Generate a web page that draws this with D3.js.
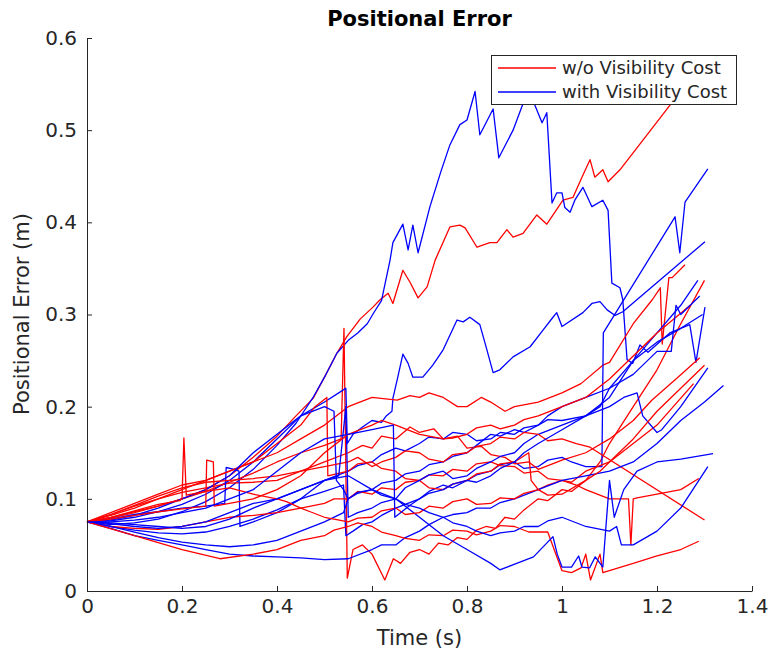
<!DOCTYPE html>
<html>
<head>
<meta charset="utf-8">
<script src="https://cdn.jsdelivr.net/npm/d3@7"></script>
<style>
  html, body { margin: 0; padding: 0; background: #fff; }
  svg { display: block; font-family: "DejaVu Sans", sans-serif; }
</style>
</head>
<body>
<svg id="chart" width="772" height="658"></svg>
<script>
// Axis ticks
const xTicks = [0, 0.2, 0.4, 0.6, 0.8, 1.0, 1.2, 1.4];
const yTicks = [0, 0.1, 0.2, 0.3, 0.4, 0.5, 0.6];
const seriesNames = ["w/o Visibility Cost", "with Visibility Cost"];

// Runs without the visibility cost: [time (s), positional error (m)]
const redRuns = [
  [[0,0.075],[0.05,0.079],[0.1,0.085],[0.15,0.092],[0.2,0.1],[0.25,0.11],[0.3,0.125],[0.35,0.145],[0.4,0.168],[0.44,0.19],[0.476,0.209],[0.5,0.232],[0.526,0.258],[0.547,0.276],[0.575,0.295],[0.602,0.308],[0.617,0.316],[0.634,0.323],[0.644,0.312],[0.665,0.348],[0.68,0.335],[0.697,0.318],[0.716,0.33],[0.733,0.359],[0.764,0.395],[0.785,0.397],[0.796,0.394],[0.821,0.373],[0.848,0.378],[0.863,0.378],[0.884,0.392],[0.897,0.384],[0.918,0.388],[0.947,0.408],[0.968,0.398],[1.002,0.424],[1.023,0.427],[1.042,0.449],[1.059,0.468],[1.069,0.449],[1.086,0.457],[1.097,0.444],[1.122,0.457],[1.227,0.527],[1.27,0.556]],
  [[0,0.075],[0.05,0.08],[0.1,0.086],[0.15,0.092],[0.2,0.1],[0.25,0.108],[0.3,0.118],[0.35,0.128],[0.4,0.14],[0.45,0.15],[0.5,0.158],[0.535,0.165],[0.541,0.285],[0.548,0.014],[0.56,0.045],[0.58,0.05],[0.6,0.04],[0.627,0.012],[0.645,0.035],[0.66,0.03],[0.68,0.042],[0.7,0.045],[0.72,0.04],[0.74,0.052],[0.76,0.05],[0.78,0.058],[0.8,0.056],[0.82,0.066],[0.84,0.07],[0.86,0.068],[0.88,0.08],[0.9,0.078],[0.92,0.088],[0.95,0.1],[0.97,0.098],[1.0,0.11],[1.02,0.108],[1.05,0.12],[1.08,0.14],[1.1,0.16],[1.15,0.2],[1.2,0.24],[1.25,0.29],[1.3,0.337]],
  [[0,0.075],[0.05,0.082],[0.1,0.09],[0.15,0.1],[0.2,0.11],[0.25,0.12],[0.3,0.13],[0.35,0.14],[0.4,0.15],[0.45,0.165],[0.5,0.18],[0.55,0.2],[0.6,0.21],[0.653,0.207],[0.68,0.212],[0.7,0.21],[0.72,0.215],[0.75,0.21],[0.78,0.2],[0.8,0.2],[0.83,0.21],[0.85,0.205],[0.88,0.195],[0.9,0.2],[0.95,0.205],[1.0,0.215],[1.04,0.225],[1.086,0.245],[1.1,0.248],[1.15,0.29],[1.19,0.316],[1.207,0.329],[1.211,0.268],[1.225,0.34],[1.232,0.34],[1.259,0.354]],
  [[0,0.075],[0.05,0.083],[0.1,0.092],[0.15,0.1],[0.2,0.107],[0.25,0.112],[0.3,0.117],[0.35,0.118],[0.4,0.12],[0.45,0.13],[0.5,0.14],[0.55,0.15],[0.58,0.158],[0.6,0.155],[0.62,0.168],[0.65,0.165],[0.68,0.178],[0.7,0.172],[0.73,0.176],[0.75,0.165],[0.78,0.168],[0.8,0.155],[0.83,0.157],[0.85,0.148],[0.88,0.145],[0.9,0.138],[0.93,0.14],[0.95,0.132],[0.98,0.138],[1.0,0.142],[1.05,0.15],[1.1,0.165],[1.15,0.185],[1.189,0.207],[1.24,0.23],[1.29,0.253]],
  [[0,0.075],[0.05,0.085],[0.1,0.095],[0.15,0.105],[0.2,0.115],[0.25,0.12],[0.3,0.13],[0.35,0.14],[0.4,0.16],[0.45,0.18],[0.48,0.2],[0.505,0.21],[0.507,0.125],[0.55,0.13],[0.57,0.138],[0.6,0.14],[0.62,0.133],[0.65,0.13],[0.67,0.122],[0.7,0.12],[0.72,0.112],[0.75,0.11],[0.77,0.116],[0.8,0.12],[0.82,0.127],[0.85,0.13],[0.87,0.138],[0.9,0.14],[0.93,0.15],[0.935,0.12],[0.95,0.11],[0.97,0.115],[1.0,0.12],[1.02,0.118],[1.05,0.13],[1.1,0.14],[1.15,0.16],[1.2,0.18],[1.277,0.225]],
  [[0,0.075],[0.05,0.07],[0.1,0.068],[0.15,0.067],[0.2,0.07],[0.25,0.075],[0.3,0.08],[0.35,0.082],[0.4,0.085],[0.45,0.09],[0.5,0.095],[0.52,0.1],[0.55,0.1],[0.57,0.108],[0.6,0.105],[0.62,0.112],[0.65,0.11],[0.67,0.118],[0.7,0.12],[0.72,0.126],[0.75,0.125],[0.77,0.132],[0.8,0.13],[0.82,0.138],[0.85,0.14],[0.87,0.136],[0.9,0.135],[0.92,0.128],[0.95,0.13],[0.97,0.122],[1.0,0.12],[1.03,0.115],[1.05,0.11],[1.1,0.1],[1.14,0.1],[1.145,0.05],[1.15,0.1],[1.158,0.101],[1.2,0.105],[1.25,0.11],[1.288,0.122]],
  [[0,0.075],[0.05,0.083],[0.1,0.093],[0.15,0.103],[0.2,0.112],[0.25,0.118],[0.3,0.12],[0.35,0.122],[0.4,0.125],[0.45,0.13],[0.5,0.135],[0.55,0.14],[0.57,0.145],[0.6,0.135],[0.62,0.14],[0.65,0.145],[0.67,0.152],[0.7,0.15],[0.72,0.143],[0.75,0.14],[0.77,0.148],[0.8,0.15],[0.82,0.157],[0.85,0.16],[0.87,0.167],[0.9,0.165],[0.92,0.172],[0.95,0.17],[0.97,0.163],[1.0,0.165],[1.03,0.16],[1.059,0.156],[1.3,0.077]],
  [[0,0.075],[0.1,0.06],[0.2,0.045],[0.28,0.035],[0.35,0.04],[0.4,0.045],[0.45,0.055],[0.5,0.06],[0.52,0.066],[0.55,0.07],[0.57,0.074],[0.6,0.07],[0.62,0.064],[0.65,0.06],[0.67,0.057],[0.7,0.055],[0.72,0.061],[0.75,0.06],[0.77,0.066],[0.8,0.065],[0.82,0.061],[0.85,0.065],[0.87,0.071],[0.9,0.07],[0.93,0.064],[0.97,0.064],[0.98,0.05],[1.0,0.022],[1.02,0.02],[1.04,0.025],[1.05,0.04],[1.06,0.012],[1.08,0.04],[1.086,0.02],[1.15,0.03],[1.2,0.038],[1.25,0.045],[1.288,0.054]],
  [[0,0.075],[0.05,0.08],[0.1,0.087],[0.15,0.094],[0.195,0.098],[0.2,0.1],[0.204,0.166],[0.209,0.104],[0.25,0.108],[0.3,0.112],[0.35,0.105],[0.4,0.1],[0.42,0.097],[0.45,0.09],[0.47,0.086],[0.5,0.08],[0.52,0.078],[0.55,0.075],[0.57,0.079],[0.6,0.08],[0.62,0.087],[0.65,0.09],[0.67,0.083],[0.7,0.085],[0.72,0.092],[0.75,0.09],[0.77,0.097],[0.8,0.1],[0.82,0.094],[0.85,0.095],[0.87,0.101],[0.9,0.1],[0.92,0.106],[0.95,0.11],[0.97,0.104],[1.0,0.105],[1.05,0.12],[1.08,0.13],[1.1,0.14],[1.15,0.165],[1.2,0.195],[1.3,0.245]],
  [[0,0.075],[0.05,0.078],[0.1,0.082],[0.15,0.086],[0.2,0.089],[0.25,0.092],[0.252,0.142],[0.266,0.14],[0.268,0.092],[0.3,0.095],[0.35,0.1],[0.4,0.11],[0.45,0.125],[0.5,0.15],[0.52,0.158],[0.55,0.17],[0.57,0.174],[0.6,0.18],[0.62,0.185],[0.65,0.18],[0.67,0.176],[0.7,0.17],[0.72,0.168],[0.75,0.165],[0.77,0.166],[0.8,0.17],[0.82,0.177],[0.85,0.18],[0.87,0.176],[0.9,0.18],[0.92,0.186],[0.95,0.19],[1.0,0.2],[1.05,0.21],[1.1,0.23],[1.15,0.255],[1.2,0.28],[1.27,0.31]]
];

// Runs with the visibility cost
const blueRuns = [
  [[0,0.075],[0.05,0.072],[0.1,0.074],[0.15,0.078],[0.2,0.086],[0.25,0.097],[0.3,0.112],[0.35,0.132],[0.4,0.158],[0.44,0.182],[0.476,0.21],[0.5,0.232],[0.526,0.258],[0.55,0.272],[0.57,0.28],[0.59,0.29],[0.605,0.303],[0.62,0.315],[0.638,0.359],[0.644,0.378],[0.665,0.398],[0.676,0.37],[0.686,0.397],[0.697,0.367],[0.722,0.417],[0.745,0.455],[0.764,0.484],[0.785,0.506],[0.8,0.511],[0.817,0.542],[0.827,0.495],[0.855,0.523],[0.867,0.47],[0.897,0.5],[0.918,0.529],[0.933,0.538],[0.943,0.527],[0.958,0.508],[0.968,0.519],[0.979,0.421],[0.989,0.432],[1.0,0.432],[1.006,0.416],[1.017,0.411],[1.027,0.424],[1.044,0.438],[1.063,0.417],[1.086,0.424],[1.097,0.413],[1.105,0.334],[1.122,0.329],[1.128,0.316],[1.137,0.251],[1.149,0.247],[1.164,0.267],[1.181,0.259],[1.227,0.28],[1.269,0.289],[1.282,0.248],[1.301,0.308]],
  [[0,0.075],[0.05,0.076],[0.1,0.08],[0.15,0.086],[0.2,0.094],[0.25,0.105],[0.3,0.12],[0.35,0.14],[0.4,0.165],[0.45,0.19],[0.5,0.205],[0.53,0.215],[0.545,0.22],[0.548,0.16],[0.56,0.17],[0.58,0.178],[0.6,0.185],[0.62,0.183],[0.63,0.19],[0.642,0.195],[0.644,0.209],[0.653,0.229],[0.665,0.257],[0.676,0.247],[0.686,0.232],[0.707,0.232],[0.728,0.245],[0.749,0.261],[0.779,0.294],[0.792,0.292],[0.806,0.297],[0.827,0.289],[0.838,0.269],[0.855,0.237],[0.869,0.24],[0.897,0.254],[0.933,0.265],[0.96,0.283],[0.981,0.297],[0.989,0.302],[1.0,0.287],[1.044,0.302],[1.063,0.312],[1.08,0.314],[1.095,0.305],[1.112,0.299],[1.128,0.303],[1.301,0.379]],
  [[0,0.075],[0.05,0.07],[0.1,0.066],[0.15,0.063],[0.2,0.062],[0.25,0.064],[0.3,0.07],[0.35,0.078],[0.4,0.088],[0.45,0.1],[0.5,0.108],[0.54,0.115],[0.545,0.06],[0.56,0.065],[0.58,0.072],[0.6,0.075],[0.62,0.082],[0.65,0.09],[0.67,0.094],[0.7,0.1],[0.72,0.108],[0.75,0.115],[0.77,0.112],[0.8,0.12],[0.82,0.126],[0.85,0.13],[0.87,0.137],[0.9,0.14],[0.92,0.133],[0.95,0.135],[0.97,0.142],[1.0,0.145],[1.02,0.14],[1.05,0.135],[1.084,0.135],[1.087,0.28],[1.238,0.406],[1.248,0.367],[1.259,0.422],[1.307,0.458]],
  [[0,0.075],[0.05,0.078],[0.1,0.083],[0.15,0.086],[0.2,0.09],[0.25,0.092],[0.29,0.095],[0.293,0.134],[0.31,0.132],[0.32,0.13],[0.322,0.07],[0.35,0.075],[0.4,0.085],[0.45,0.1],[0.5,0.12],[0.55,0.13],[0.57,0.136],[0.6,0.14],[0.62,0.148],[0.65,0.155],[0.67,0.152],[0.7,0.16],[0.72,0.167],[0.75,0.165],[0.77,0.172],[0.8,0.17],[0.82,0.163],[0.85,0.165],[0.87,0.172],[0.9,0.17],[0.92,0.177],[0.95,0.18],[0.97,0.186],[1.0,0.185],[1.05,0.19],[1.1,0.21],[1.15,0.25],[1.2,0.28],[1.25,0.31],[1.286,0.337]],
  [[0,0.075],[0.05,0.077],[0.1,0.082],[0.15,0.09],[0.2,0.1],[0.25,0.11],[0.3,0.125],[0.35,0.15],[0.4,0.17],[0.45,0.19],[0.5,0.2],[0.52,0.195],[0.525,0.12],[0.54,0.11],[0.55,0.1],[0.57,0.106],[0.6,0.11],[0.62,0.117],[0.65,0.12],[0.67,0.127],[0.7,0.13],[0.72,0.137],[0.75,0.14],[0.77,0.146],[0.8,0.15],[0.82,0.158],[0.85,0.17],[0.87,0.168],[0.9,0.175],[0.92,0.172],[0.95,0.18],[0.97,0.19],[1.0,0.2],[1.05,0.21],[1.1,0.22],[1.15,0.25],[1.2,0.27],[1.25,0.285],[1.296,0.3]],
  [[0,0.075],[0.05,0.07],[0.1,0.064],[0.15,0.058],[0.2,0.053],[0.25,0.05],[0.3,0.048],[0.35,0.05],[0.4,0.055],[0.45,0.065],[0.5,0.075],[0.54,0.085],[0.55,0.1],[0.57,0.107],[0.6,0.11],[0.62,0.104],[0.65,0.1],[0.67,0.112],[0.7,0.12],[0.72,0.126],[0.75,0.13],[0.77,0.122],[0.8,0.125],[0.82,0.133],[0.85,0.14],[0.87,0.146],[0.9,0.15],[0.92,0.16],[0.95,0.17],[1.0,0.18],[1.05,0.19],[1.1,0.2],[1.13,0.21],[1.158,0.215],[1.17,0.19],[1.2,0.172],[1.21,0.175],[1.25,0.2],[1.307,0.242]],
  [[0,0.075],[0.05,0.068],[0.1,0.06],[0.15,0.055],[0.2,0.05],[0.25,0.045],[0.3,0.04],[0.35,0.038],[0.4,0.037],[0.45,0.036],[0.5,0.034],[0.55,0.035],[0.6,0.045],[0.62,0.05],[0.65,0.05],[0.67,0.058],[0.7,0.065],[0.72,0.072],[0.75,0.08],[0.77,0.083],[0.8,0.085],[0.82,0.09],[0.85,0.09],[0.87,0.096],[0.9,0.1],[0.95,0.11],[1.0,0.12],[1.05,0.125],[1.1,0.13],[1.15,0.14],[1.2,0.16],[1.25,0.185],[1.3,0.205],[1.34,0.223]],
  [[0,0.075],[0.05,0.073],[0.1,0.07],[0.15,0.068],[0.2,0.07],[0.25,0.075],[0.3,0.085],[0.35,0.095],[0.4,0.1],[0.45,0.11],[0.5,0.12],[0.55,0.125],[0.6,0.11],[0.65,0.1],[0.7,0.08],[0.75,0.06],[0.8,0.045],[0.85,0.03],[0.869,0.023],[0.91,0.031],[0.94,0.037],[0.981,0.059],[0.99,0.04],[1.0,0.026],[1.02,0.026],[1.035,0.038],[1.042,0.026],[1.058,0.025],[1.07,0.037],[1.086,0.026],[1.1,0.12],[1.11,0.08],[1.13,0.11],[1.158,0.13],[1.2,0.14],[1.25,0.143],[1.318,0.149]],
  [[0,0.075],[0.05,0.074],[0.1,0.072],[0.15,0.07],[0.2,0.068],[0.25,0.07],[0.3,0.078],[0.35,0.09],[0.4,0.1],[0.45,0.11],[0.5,0.12],[0.53,0.125],[0.545,0.2],[0.55,0.08],[0.57,0.085],[0.6,0.09],[0.62,0.096],[0.65,0.1],[0.67,0.094],[0.7,0.09],[0.72,0.085],[0.75,0.08],[0.77,0.074],[0.8,0.07],[0.82,0.065],[0.85,0.06],[0.87,0.063],[0.9,0.065],[0.92,0.07],[0.95,0.07],[0.97,0.076],[1.0,0.08],[1.05,0.07],[1.1,0.065],[1.115,0.07],[1.125,0.05],[1.15,0.05],[1.2,0.065],[1.25,0.09],[1.307,0.135]],
  [[0,0.075],[0.05,0.075],[0.1,0.077],[0.15,0.08],[0.2,0.085],[0.25,0.09],[0.3,0.1],[0.35,0.11],[0.4,0.13],[0.45,0.15],[0.5,0.165],[0.55,0.17],[0.6,0.175],[0.645,0.18],[0.648,0.08],[0.66,0.085],[0.68,0.093],[0.7,0.1],[0.72,0.106],[0.75,0.11],[0.77,0.116],[0.8,0.12],[0.82,0.118],[0.85,0.125],[0.87,0.133],[0.9,0.14],[0.92,0.15],[0.95,0.16],[0.97,0.166],[1.0,0.175],[1.05,0.19],[1.08,0.2],[1.1,0.22],[1.15,0.235],[1.2,0.26],[1.23,0.26],[1.24,0.31],[1.25,0.3],[1.27,0.31],[1.29,0.32]]
];

const colors = { red: "#ff0000", blue: "#0000ff" };
const ink = "#262626";

const svg = d3.select("#chart");
const x = d3.scaleLinear().domain([0, 1.4]).range([87, 752]);
const y = d3.scaleLinear().domain([0, 0.6]).range([591, 38]);

const line = d3.line().x(d => x(d[0])).y(d => y(d[1]));

// Traces, alternating the two groups so neither sits entirely on top
const traces = [];
for (let i = 0; i < Math.max(redRuns.length, blueRuns.length); i++) {
  if (redRuns[i]) traces.push({ c: colors.red, d: redRuns[i] });
  if (blueRuns[i]) traces.push({ c: colors.blue, d: blueRuns[i] });
}
svg.append("g").selectAll("path").data(traces).join("path")
  .attr("d", t => line(t.d))
  .attr("fill", "none")
  .attr("stroke", t => t.c)
  .attr("stroke-width", 1.3)
  .attr("stroke-linejoin", "round");

// Axes (left and bottom only, ticks pointing inward)
const xAxis = d3.axisBottom(x).tickValues(xTicks).tickSize(-5).tickSizeOuter(0).tickPadding(8)
  .tickFormat(d3.format("~g"));
const yAxis = d3.axisLeft(y).tickValues(yTicks).tickSize(-5).tickSizeOuter(0).tickPadding(10)
  .tickFormat(d3.format("~g"));

const gx = svg.append("g").attr("transform", "translate(0,591)").call(xAxis);
const gy = svg.append("g").attr("transform", "translate(87,0)").call(yAxis);
[gx, gy].forEach(g => {
  g.select(".domain").attr("stroke", ink).attr("stroke-width", 1);
  g.selectAll(".tick line").attr("stroke", ink);
  g.selectAll(".tick text").attr("fill", ink).style("font-size", "20px").style("font-family", "DejaVu Sans");
});

// Title and axis labels
svg.append("text").attr("x", 419.5).attr("y", 26).attr("text-anchor", "middle")
  .style("font-size", "21px").style("font-weight", "bold").attr("fill", "#000")
  .text("Positional Error");
svg.append("text").attr("x", 419.5).attr("y", 645).attr("text-anchor", "middle")
  .style("font-size", "21px").attr("fill", ink).text("Time (s)");
svg.append("text").attr("transform", "translate(29,314) rotate(-90)").attr("text-anchor", "middle")
  .style("font-size", "21px").attr("fill", ink).text("Positional Error (m)");

// Legend
const lg = svg.append("g");
lg.append("rect").attr("x", 491.5).attr("y", 55.5).attr("width", 245).attr("height", 49)
  .attr("fill", "#fff").attr("stroke", ink).attr("stroke-width", 1);
[colors.red, colors.blue].forEach((c, i) => {
  const yy = 68 + i * 24;
  lg.append("line").attr("x1", 498).attr("x2", 556).attr("y1", yy).attr("y2", yy)
    .attr("stroke", c).attr("stroke-width", 1.3);
  lg.append("text").attr("x", 562).attr("y", yy + 6).style("font-size", "18px").attr("fill", ink)
    .text(seriesNames[i]);
});
</script>
</body>
</html>
